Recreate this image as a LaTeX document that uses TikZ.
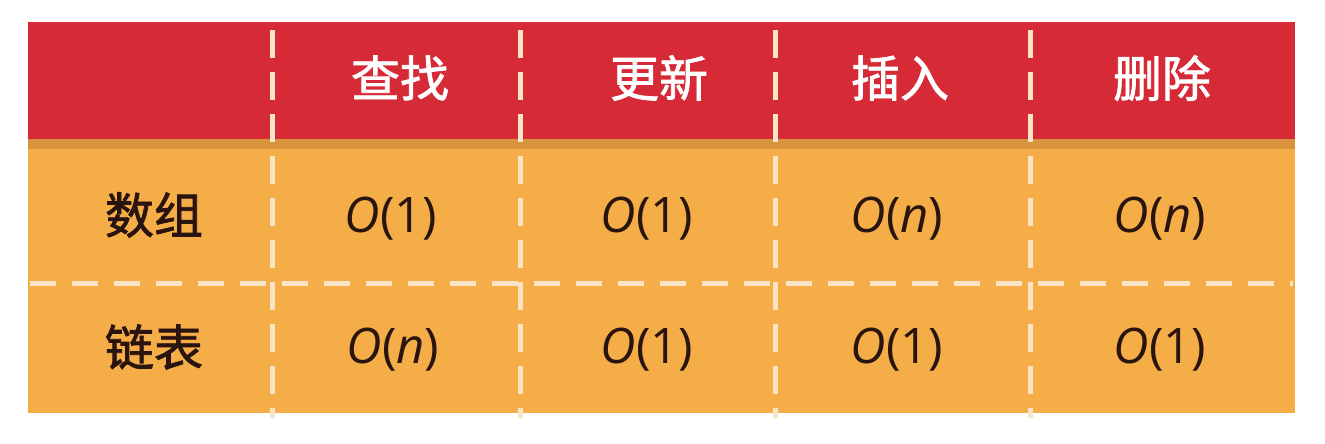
\documentclass[tikz,border=0pt]{standalone}
\usepackage{fontspec}
\setmainfont{Open Sans}
\newfontfamily\cjk[FakeBold=1.6]{Noto Sans CJK SC}
\definecolor{hdrred}{HTML}{D62B36}
\definecolor{bodyor}{HTML}{F5AD47}
\definecolor{bandor}{HTML}{D9933A}
\definecolor{cream}{HTML}{F8E4C6}
\definecolor{ink}{HTML}{2A1410}
\tikzset{
  hdr/.style={font=\cjk\fontsize{49}{49}\selectfont, text=white, inner sep=0pt},
  rowlab/.style={font=\cjk\fontsize{49}{49}\selectfont, text=ink, inner sep=0pt},
  cell/.style={font=\fontsize{49}{49}\selectfont, text=ink, inner sep=0pt},
  divider/.style={draw=cream, line width=5pt, dash pattern=on 28pt off 14pt},
  hdivider/.style={draw=cream, line width=5pt, dash pattern=on 26pt off 16pt},
}
\begin{document}
\begin{tikzpicture}[x=1pt,y=-1pt]
\useasboundingbox (0,0) rectangle (1325,444);
% backgrounds
\fill[bodyor] (28,139) rectangle (1295,413);
\fill[bandor] (28,139) rectangle (1295,149);
\fill[hdrred] (28,22) rectangle (1295,139);
% grid coordinates
\coordinate (v1t) at (272,30); \coordinate (v1b) at (272,418);
\coordinate (v2t) at (520,30); \coordinate (v2b) at (520,418);
\coordinate (v3t) at (775,30); \coordinate (v3b) at (775,418);
\coordinate (v4t) at (1030,30); \coordinate (v4b) at (1030,418);
\coordinate (hl) at (30,283); \coordinate (hr) at (1293,283);
\draw[hdivider] (hl) -- (hr);
\draw[divider] (v1t) -- (v1b);
\draw[divider] (v2t) -- (v2b);
\draw[divider] (v3t) -- (v3b);
\draw[divider] (v4t) -- (v4b);
% header
\node[hdr] (h1) at (400,78) {查找};
\node[hdr] (h2) at (659,78) {更新};
\node[hdr] (h3) at (900,78) {插入};
\node[hdr] (h4) at (1162,78) {删除};
% row labels
\node[rowlab] (r1) at (154,215) {数组};
\node[rowlab] (r2) at (154,347) {链表};
% cells
\node[cell] (c11) at (391,219) {\textit{O}(1)};
\node[cell] (c12) at (647,219) {\textit{O}(1)};
\node[cell] (c13) at (897,219) {\textit{O}(\textit{n})};
\node[cell] (c14) at (1160,219) {\textit{O}(\textit{n})};
\node[cell] (c21) at (393,350) {\textit{O}(\textit{n})};
\node[cell] (c22) at (647,350) {\textit{O}(1)};
\node[cell] (c23) at (897,350) {\textit{O}(1)};
\node[cell] (c24) at (1160,350) {\textit{O}(1)};
\end{tikzpicture}
\end{document}
